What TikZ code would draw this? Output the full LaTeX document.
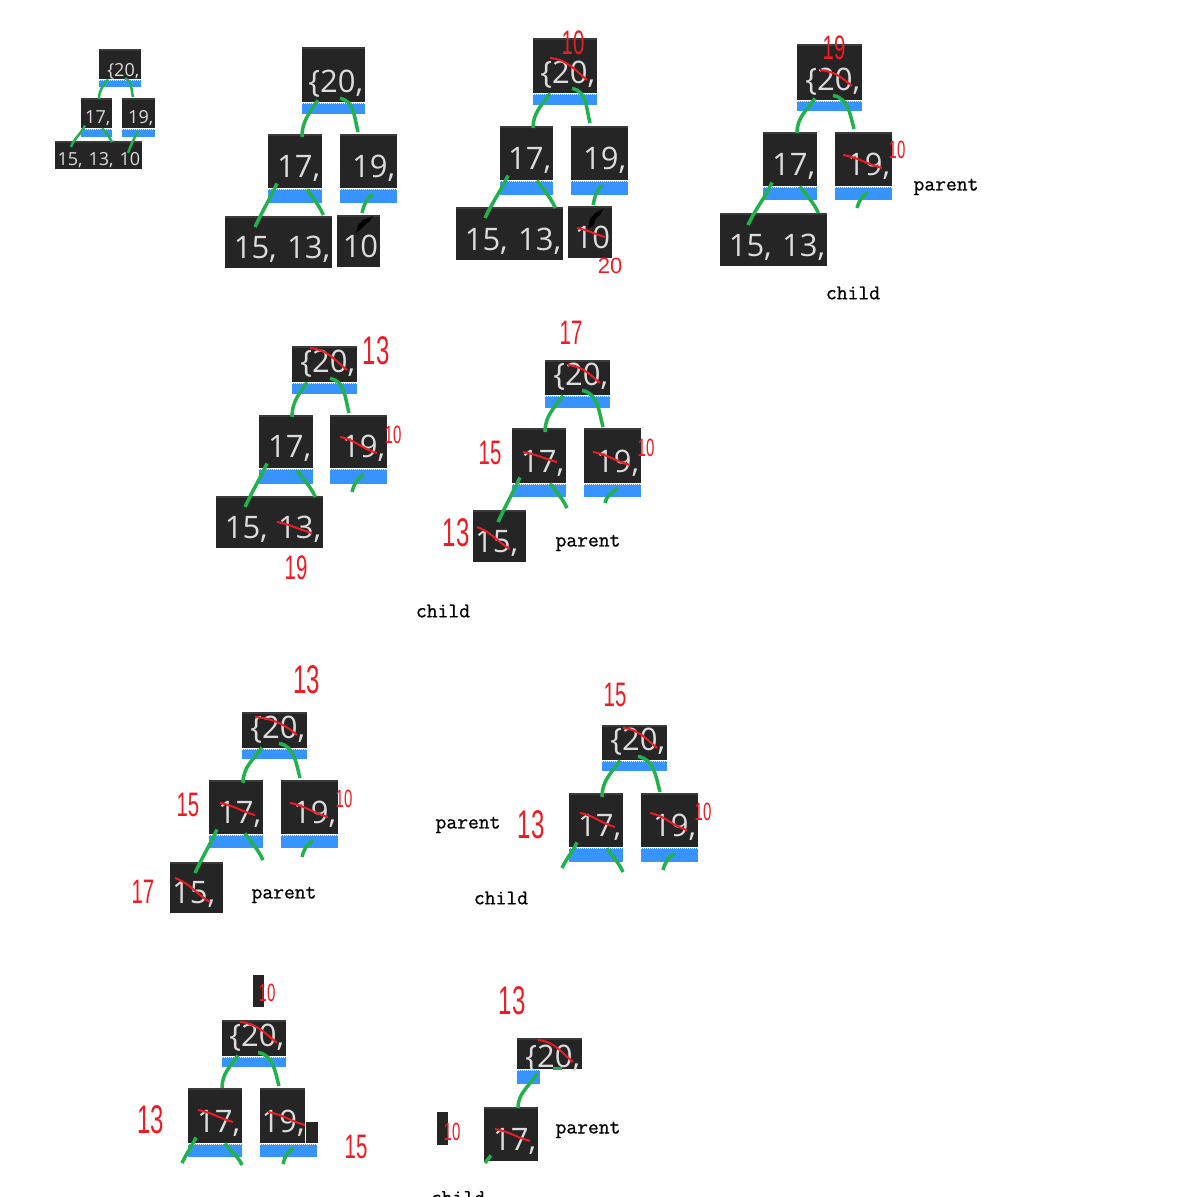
\documentclass[tikz,border=0pt]{standalone}
\usepackage{fontspec}
\usetikzlibrary{calc}
\newfontfamily\codefont{Open Sans}
\newfontfamily\handfont[FakeStretch=0.6]{Liberation Sans}
\newfontfamily\handwide{Liberation Sans}
\newfontfamily\tagfont[FakeBold=0.8]{Latin Modern Mono}
\definecolor{boxbg}{HTML}{252526}
\definecolor{boxtop}{HTML}{3A3A3A}
\definecolor{barblue}{HTML}{3794FF}
\definecolor{celltxt}{HTML}{DCDCDC}
\definecolor{linkgreen}{HTML}{22B14C}
\definecolor{inkred}{HTML}{ED1C24}
\tikzset{
  cell/.style={fill=boxbg,text=celltxt,anchor=north west,inner xsep=2pt,inner ysep=0pt,
               align=right,font=\codefont\fontsize{31}{31}\selectfont,
               path picture={\fill[boxtop] (path picture bounding box.north west)
                 rectangle ([yshift=-2pt]path picture bounding box.north east);}},
  rootcell/.style={cell,text height=45pt,text depth=10pt},
  lowroot/.style={cell,text height=26pt,text depth=10pt},
  midcell/.style={cell,text height=43pt,text depth=11pt},
  leafcell/.style={cell,text height=42pt,text depth=10pt},
  tinycell/.style={cell,font=\codefont\fontsize{18}{18}\selectfont,text height=25pt,text depth=5pt},
  blank/.style={fill=boxbg,anchor=north west,inner sep=0pt},
  bar/.style={fill=barblue,anchor=north west,inner sep=0pt,
              path picture={\draw[white,line width=1pt,dash pattern=on 1pt off 1pt]
                ([yshift=-0.5pt]path picture bounding box.north west) --
                ([yshift=-0.5pt]path picture bounding box.north east);}},
  link/.style={draw=linkgreen,line width=3.5pt},
  thinlink/.style={link,line width=2.5pt},
  strike/.style={draw=inkred,line width=2pt},
  hand/.style={text=inkred,inner sep=0pt,font=\handfont\fontsize{40}{40}\selectfont},
  midhand/.style={hand,font=\handfont\fontsize{34}{34}\selectfont},
  smallhand/.style={hand,font=\handfont\fontsize{25}{25}\selectfont},
  tag/.style={text=black,inner sep=0pt,font=\tagfont\fontsize{21}{21}\selectfont},
}
\begin{document}
\begin{tikzpicture}[x=1pt,y=1pt]
  \useasboundingbox (0,0) rectangle (1180,-1197);
  \fill[white] (0,0) rectangle (1180,-1197);
  \clip (0,0) rectangle (1180,-1197);
  % ---- tree 1 (small) ----
  \node[tinycell,text width=38pt,text height=27pt,text depth=3pt] (root1) at (99,-49) {\{20,};
  \node[bar,minimum width=42pt,minimum height=7pt] (rootbar1) at (root1.south west) {};
  \node[tinycell,text width=27pt] (left1) at (81,-98) {17,};
  \node[bar,minimum width=31pt,minimum height=8pt] (leftbar1) at (left1.south west) {};
  \node[tinycell,text width=29pt] (right1) at (122,-98) {19,};
  \node[bar,minimum width=33pt,minimum height=8pt] (rightbar1) at (right1.south west) {};
  \node[tinycell,text width=83pt,text height=24pt,text depth=4pt] (leaf1) at (55,-141) {15, 13, 10};
  \draw[thinlink] ($(rootbar1.north west)+(9,0)$) to[out=-130,in=90] ($(left1.north west)+(18,-1)$);
  \draw[thinlink] ($(rootbar1.north west)+(26,1)$) to[out=-20,in=105] ($(right1.north west)+(11,1)$);
  \draw[thinlink] ($(leftbar1.north west)+(4,3)$) to[out=-115,in=70] ($(leaf1.north west)+(16,-6)$);
  \draw[thinlink] ($(leftbar1.north west)+(21,0)$) to[out=-40,in=120] ($(leaf1.north west)+(57,-1)$);
  \draw[thinlink] ($(rightbar1.north west)+(16,-3)$) to[out=-120,in=70] ($(leaf1.north west)+(73,-12)$);
  % ---- tree 2 ----
  \node[rootcell,text width=59pt] (root2) at (302,-47) {\{20,};
  \node[bar,minimum width=63pt,minimum height=11pt] (rootbar2) at (root2.south west) {};
  \node[midcell,text width=50pt] (left2) at (268,-134) {17,};
  \node[bar,minimum width=54pt,minimum height=14pt] (leftbar2) at (left2.south west) {};
  \node[midcell,text width=53pt] (right2) at (340,-134) {19,};
  \node[bar,minimum width=57pt,minimum height=14pt] (rightbar2) at (right2.south west) {};
  \node[leafcell,text width=103pt] (leaf2) at (225,-216) {15, 13,};
  \node[leafcell,text width=39pt] (ten2) at (337,-215) {10};
  \fill[black] (356,-233) -- (358,-225) -- (363,-220) -- (373,-216) -- (369,-222) -- (366,-224) -- (362,-228) -- cycle;
  \draw[link] ($(rootbar2.north west)+(16,2)$) to[out=-125,in=90] ($(left2.north west)+(34,-3)$);
  \draw[link] ($(rootbar2.north west)+(38,4)$) to[out=-10,in=105] ($(right2.north west)+(18,2)$);
  \draw[link] ($(leftbar2.north west)+(9,5)$) to[out=-115,in=65] ($(leaf2.north west)+(30,-11)$);
  \draw[link] ($(leftbar2.north west)+(39,-1)$) to[out=-55,in=115] ($(leaf2.north east)+(-9,1)$);
  \draw[link] ($(rightbar2.north west)+(33,-6)$) to[out=-150,in=75] ($(ten2.north west)+(25,2)$);
  % ---- tree 3 ----
  \node[rootcell,text width=60pt] (root3) at (533,-38) {\{20,};
  \node[bar,minimum width=64pt,minimum height=11pt] (rootbar3) at (root3.south west) {};
  \node[midcell,text width=49pt] (left3) at (500,-126) {17,};
  \node[bar,minimum width=53pt,minimum height=14pt] (leftbar3) at (left3.south west) {};
  \node[midcell,text width=53pt] (right3) at (571,-126) {19,};
  \node[bar,minimum width=57pt,minimum height=14pt] (rightbar3) at (right3.south west) {};
  \node[leafcell,text width=103pt,text height=43pt] (leaf3) at (456,-207) {15, 13,};
  \node[leafcell,text width=40pt] (ten3) at (568,-206) {10};
  \fill[black] (588,-228) -- (590,-219) -- (595,-213) -- (603,-209) -- (600,-215) -- (596,-218) -- (593,-226) -- cycle;
  \draw[link] ($(rootbar3.north west)+(17,0)$) to[out=-125,in=90] ($(left3.north west)+(33,-2)$);
  \draw[link] ($(rootbar3.north west)+(39,5)$) to[out=-10,in=105] ($(right3.north west)+(19,3)$);
  \draw[link] ($(leftbar3.north west)+(8,5)$) to[out=-115,in=65] ($(leaf3.north west)+(29,-11)$);
  \draw[link] ($(leftbar3.north west)+(37,0)$) to[out=-55,in=115] ($(leaf3.north east)+(-8,-1)$);
  \draw[link] ($(rightbar3.north west)+(32,-5)$) to[out=-150,in=75] ($(ten3.north west)+(25,1)$);
  \node[midhand] (ink3a) at (573,-43) {10};
  \draw[strike] (550,-58) to[out=-5,in=140] (587,-80);
  \draw[strike] (577,-228) to[out=-10,in=165] (605,-237);
  \node[hand,font=\handwide\fontsize{22}{22}\selectfont] (ink3b) at (610,-266) {20};
  % ---- tree 4 ----
  \node[rootcell,text width=61pt,text height=46pt] (root4) at (797,-44) {\{20,};
  \node[bar,minimum width=65pt,minimum height=10pt] (rootbar4) at (root4.south west) {};
  \node[midcell,text width=50pt] (left4) at (763,-132) {17,};
  \node[bar,minimum width=54pt,minimum height=13pt] (leftbar4) at (left4.south west) {};
  \node[midcell,text width=53pt] (right4) at (835,-132) {19,};
  \node[bar,minimum width=57pt,minimum height=13pt] (rightbar4) at (right4.south west) {};
  \node[leafcell,text width=103pt,text height=43pt] (leaf4) at (720,-213) {15, 13,};
  \coordinate (stub4) at (857,-208);
  \draw[link] ($(rootbar4.north west)+(18,2)$) to[out=-125,in=90] ($(left4.north west)+(34,-1)$);
  \draw[link] ($(rootbar4.north west)+(36,5)$) to[out=-10,in=105] ($(right4.north west)+(19,3)$);
  \draw[link] ($(leftbar4.north west)+(9,4)$) to[out=-115,in=65] ($(leaf4.north west)+(28,-12)$);
  \draw[link] ($(leftbar4.north west)+(37,0)$) to[out=-55,in=115] ($(leaf4.north east)+(-9,0)$);
  \draw[link] ($(rightbar4.north west)+(33,-6)$) to[out=-150,in=75] (stub4);
  \node[midhand] (ink4a) at (834,-48) {19};
  \draw[strike] (820,-70) to[out=-5,in=140] (852,-86);
  \draw[strike] (843,-155) to[out=-10,in=165] (882,-168);
  \node[smallhand] (ink4b) at (897,-150) {10};
  \node[tag] (parent4) at (946,-187) {parent};
  \node[tag] (child4) at (853,-293) {child};
  % ---- tree 5 ----
  \node[lowroot,text width=61pt] (root5) at (292,-346) {\{20,};
  \node[bar,minimum width=65pt,minimum height=11pt] (rootbar5) at (root5.south west) {};
  \node[midcell,text width=50pt,text height=42pt] (left5) at (259,-415) {17,};
  \node[bar,minimum width=54pt,minimum height=15pt] (leftbar5) at (left5.south west) {};
  \node[midcell,text width=53pt,text height=42pt] (right5) at (330,-415) {19,};
  \node[bar,minimum width=57pt,minimum height=15pt] (rightbar5) at (right5.south west) {};
  \node[leafcell,text width=103pt] (leaf5) at (216,-496) {15, 13,};
  \coordinate (stub5) at (352,-492);
  \draw[link] ($(rootbar5.north west)+(15,0)$) to[out=-125,in=90] ($(left5.north west)+(33,-2)$);
  \draw[link] ($(rootbar5.north west)+(38,4)$) to[out=-10,in=105] ($(right5.north west)+(19,2)$);
  \draw[link] ($(leftbar5.north west)+(8,5)$) to[out=-115,in=65] ($(leaf5.north west)+(29,-11)$);
  \draw[link] ($(leftbar5.north west)+(38,-2)$) to[out=-55,in=115] ($(leaf5.north east)+(-8,-1)$);
  \draw[link] ($(rightbar5.north west)+(34,-6)$) to[out=-150,in=75] (stub5);
  \node[hand] (ink5a) at (376,-351) {13};
  \draw[strike] (310,-348) to[out=-5,in=140] (347,-370);
  \draw[strike] (340,-437) to[out=-10,in=165] (377,-453);
  \node[smallhand] (ink5b) at (393,-435) {10};
  \draw[strike] (277,-522) to[out=-10,in=165] (312,-533);
  \node[midhand] (ink5c) at (296,-568) {19};
  % ---- tree 6 ----
  \node[lowroot,text width=61pt,text height=25pt] (root6) at (545,-360) {\{20,};
  \node[bar,minimum width=65pt,minimum height=12pt] (rootbar6) at (root6.south west) {};
  \node[midcell,text width=50pt,text height=44pt] (left6) at (512,-428) {17,};
  \node[bar,minimum width=54pt,minimum height=13pt] (leftbar6) at (left6.south west) {};
  \node[midcell,text width=53pt,text height=44pt] (right6) at (584,-428) {19,};
  \node[bar,minimum width=57pt,minimum height=13pt] (rightbar6) at (right6.south west) {};
  \node[leafcell,align=left,text width=49pt] (leaf6) at (473,-510) {15,};
  \coordinate (stubL6) at (567,-508);
  \coordinate (stubR6) at (605,-503);
  \draw[link] ($(rootbar6.north west)+(18,0)$) to[out=-125,in=90] ($(left6.north west)+(33,-4)$);
  \draw[link] ($(rootbar6.north west)+(37,5)$) to[out=-10,in=105] ($(right6.north west)+(19,1)$);
  \draw[link] ($(leftbar6.north west)+(8,6)$) to[out=-115,in=65] ($(leaf6.north west)+(25,-12)$);
  \draw[link] ($(leftbar6.north west)+(38,0)$) to[out=-55,in=115] (stubL6);
  \draw[link] ($(rightbar6.north west)+(34,-5)$) to[out=-150,in=75] (stubR6);
  \node[midhand] (ink6a) at (571,-333) {17};
  \draw[strike] (568,-365) to[out=-5,in=140] (600,-383);
  \node[midhand] (ink6b) at (490,-453) {15};
  \draw[strike] (523,-452) to[out=-10,in=165] (557,-462);
  \draw[strike] (593,-452) to[out=-10,in=165] (630,-465);
  \node[smallhand] (ink6c) at (646,-448) {10};
  \node[hand] (ink6d) at (456,-533) {13};
  \draw[strike] (477,-527) to[out=-20,in=150] (510,-549);
  \node[tag] (parent6) at (588,-543) {parent};
  \node[tag] (child6) at (443,-611) {child};
  % ---- tree 7 ----
  \node[lowroot,text width=61pt] (root7) at (242,-712) {\{20,};
  \node[bar,minimum width=65pt,minimum height=10pt] (rootbar7) at (root7.south west) {};
  \node[midcell,text width=50pt] (left7) at (209,-780) {17,};
  \node[bar,minimum width=54pt,minimum height=13pt] (leftbar7) at (left7.south west) {};
  \node[midcell,text width=53pt] (right7) at (281,-780) {19,};
  \node[bar,minimum width=57pt,minimum height=13pt] (rightbar7) at (right7.south west) {};
  \node[leafcell,align=left,text width=49pt,text height=41pt] (leaf7) at (170,-862) {15,};
  \coordinate (stubL7) at (263,-860);
  \coordinate (stubR7) at (302,-857);
  \draw[link] ($(rootbar7.north west)+(20,1)$) to[out=-125,in=90] ($(left7.north west)+(34,-3)$);
  \draw[link] ($(rootbar7.north west)+(37,5)$) to[out=-10,in=105] ($(right7.north west)+(19,2)$);
  \draw[link] ($(leftbar7.north west)+(8,5)$) to[out=-115,in=65] ($(leaf7.north west)+(25,-11)$);
  \draw[link] ($(leftbar7.north west)+(36,1)$) to[out=-55,in=115] (stubL7);
  \draw[link] ($(rightbar7.north west)+(32,-6)$) to[out=-150,in=75] (stubR7);
  \node[hand] (ink7a) at (307,-680) {13};
  \draw[strike] (255,-717) to[out=-5,in=140] (297,-735);
  \node[midhand] (ink7b) at (188,-805) {15};
  \draw[strike] (220,-803) to[out=-10,in=165] (255,-815);
  \draw[strike] (290,-803) to[out=-10,in=165] (328,-817);
  \node[smallhand] (ink7c) at (344,-799) {10};
  \node[midhand] (ink7d) at (143,-892) {17};
  \draw[strike] (175,-878) to[out=-20,in=150] (210,-902);
  \node[tag] (parent7) at (284,-895) {parent};
  % ---- tree 8 ----
  \node[lowroot,text width=61pt,text height=25pt] (root8) at (602,-725) {\{20,};
  \node[bar,minimum width=65pt,minimum height=10pt] (rootbar8) at (root8.south west) {};
  \node[midcell,text width=50pt] (left8) at (569,-793) {17,};
  \node[bar,minimum width=54pt,minimum height=14pt] (leftbar8) at (left8.south west) {};
  \node[midcell,text width=53pt] (right8) at (641,-793) {19,};
  \node[bar,minimum width=57pt,minimum height=14pt] (rightbar8) at (right8.south west) {};
  \coordinate (stubA8) at (562,-868);
  \coordinate (stubB8) at (623,-872);
  \coordinate (stubC8) at (663,-870);
  \draw[link] ($(rootbar8.north west)+(18,0)$) to[out=-125,in=90] ($(left8.north west)+(33,-4)$);
  \draw[link] ($(rootbar8.north west)+(36,4)$) to[out=-10,in=105] ($(right8.north west)+(19,1)$);
  \draw[link] ($(leftbar8.north west)+(8,5)$) to[out=-115,in=65] (stubA8);
  \draw[link] ($(leftbar8.north west)+(38,-1)$) to[out=-55,in=115] (stubB8);
  \draw[link] ($(rightbar8.north west)+(34,-6)$) to[out=-150,in=75] (stubC8);
  \node[midhand] (ink8a) at (615,-695) {15};
  \draw[strike] (623,-728) to[out=-5,in=140] (657,-748);
  \node[hand] (ink8b) at (531,-825) {13};
  \draw[strike] (580,-813) to[out=-10,in=165] (615,-827);
  \draw[strike] (650,-813) to[out=-10,in=165] (687,-830);
  \node[smallhand] (ink8c) at (703,-812) {10};
  \node[tag] (parent8) at (468,-825) {parent};
  \node[tag] (child8) at (501,-898) {child};
  % ---- tree 9 ----
  \node[blank,minimum width=11pt,minimum height=32pt] (mark9) at (253,-975) {};
  \node[lowroot,text width=60pt] (root9) at (222,-1020) {\{20,};
  \node[bar,minimum width=64pt,minimum height=10pt] (rootbar9) at (root9.south west) {};
  \node[midcell,text width=50pt,text height=44pt] (left9) at (188,-1088) {17,};
  \node[bar,minimum width=54pt,minimum height=13pt] (leftbar9) at (left9.south west) {};
  \node[midcell,text width=44pt,text height=44pt,inner xsep=0.5pt] (right9) at (260,-1088) {19,};
  \node[blank,anchor=south west,minimum width=12pt,minimum height=21pt] (rightext9) at (right9.south east) {};
  \node[bar,minimum width=57pt,minimum height=13pt] (rightbar9) at (right9.south west) {};
  \coordinate (stubA9) at (182,-1163);
  \coordinate (stubB9) at (242,-1165);
  \coordinate (stubC9) at (283,-1164);
  \draw[link] ($(rootbar9.north west)+(16,1)$) to[out=-125,in=90] ($(left9.north west)+(34,0)$);
  \draw[link] ($(rootbar9.north west)+(36,4)$) to[out=-10,in=105] ($(right9.north west)+(19,2)$);
  \draw[link] ($(leftbar9.north west)+(8,6)$) to[out=-115,in=65] (stubA9);
  \draw[link] ($(leftbar9.north west)+(37,0)$) to[out=-55,in=115] (stubB9);
  \draw[link] ($(rightbar9.north west)+(33,-5)$) to[out=-150,in=75] (stubC9);
  \node[smallhand] (ink9a) at (267,-993) {10};
  \draw[strike] (240,-1022) to[out=-5,in=140] (277,-1043);
  \node[hand] (ink9b) at (151,-1120) {13};
  \draw[strike] (198,-1110) to[out=-10,in=165] (233,-1122);
  \draw[strike] (268,-1112) to[out=-10,in=165] (305,-1125);
  \node[midhand] (ink9c) at (356,-1147) {15};
  % ---- tree 10 ----
  \node[cell,text width=61pt,text height=29pt,text depth=2pt] (root10) at (517,-1038) {\{20,};
  \node[bar,minimum width=23pt,minimum height=14pt] (rootbar10) at (root10.south west) {};
  \node[midcell,text width=50pt] (left10) at (484,-1107) {17,};
  \node[blank,minimum width=11pt,minimum height=33pt] (mark10) at (437,-1112) {};
  \coordinate (stubA10) at (485,-1163);
  \draw[link] ($(rootbar10.north west)+(20,-4)$) to[out=-120,in=90] ($(left10.north west)+(34,-1)$);
  \draw[link] ($(root10.south west)+(36,1)$) -- ++(9,0);
  \draw[link] ($(left10.south west)+(7,6)$) -- (stubA10);
  \node[hand] (ink10a) at (512,-1001) {13};
  \draw[strike] (538,-1040) to[out=-5,in=140] (573,-1062);
  \draw[strike] (495,-1129) to[out=-10,in=165] (530,-1141);
  \node[smallhand] (ink10b) at (452,-1132) {10};
  \node[tag] (parent10) at (588,-1130) {parent};
  \node[tag,anchor=base] (child10) at (458,-1204) {child};
\end{tikzpicture}
\end{document}
